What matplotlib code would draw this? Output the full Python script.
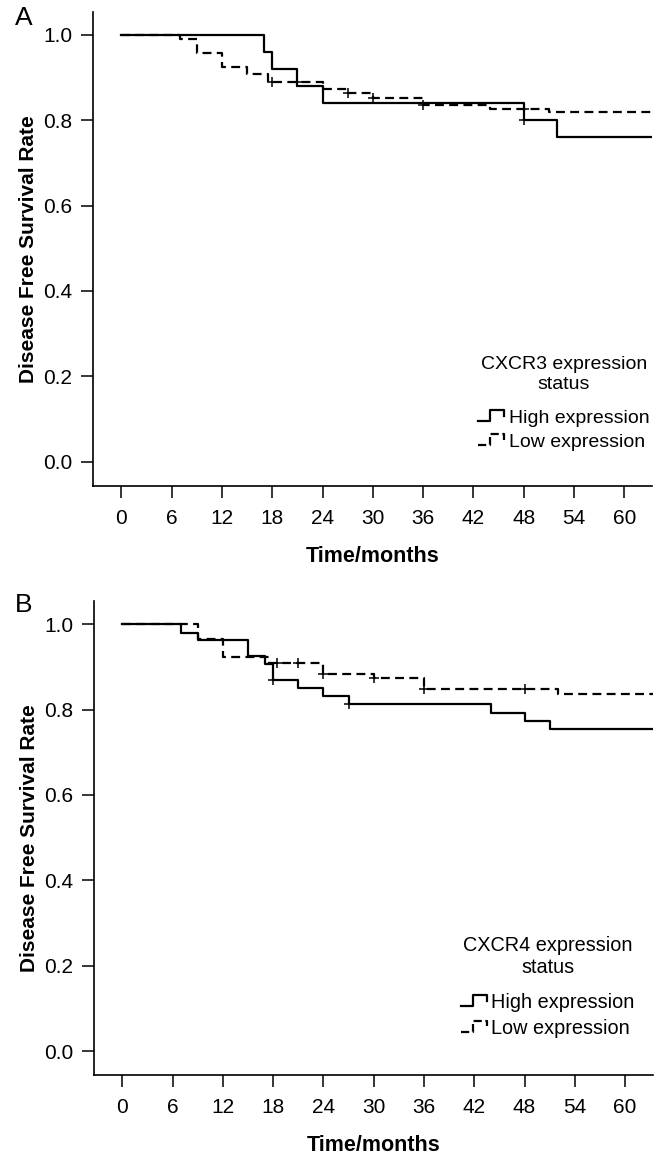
import numpy as np
import matplotlib
matplotlib.use("Agg")
import matplotlib.pyplot as plt
from matplotlib.lines import Line2D
from matplotlib.legend_handler import HandlerBase

plt.rcParams["font.family"] = ["Liberation Sans", "DejaVu Sans"]

# ---- data (months, survival) ----
# Panel A: CXCR3
a_high_t = [0, 17, 18, 21, 24, 48, 52, 63.3]
a_high_s = [1.0, 0.96, 0.92, 0.88, 0.84, 0.80, 0.76, 0.76]
a_high_cens_t = [48]
a_high_cens_s = [0.80]

a_low_t = [0, 7, 9, 12, 15, 17.5, 24, 27, 30, 36, 44, 51, 63.3]
a_low_s = [1.0, 0.99, 0.958, 0.925, 0.907, 0.889, 0.872, 0.864, 0.853, 0.835, 0.827, 0.818, 0.818]
a_low_cens_t = [18, 21, 27, 30, 36, 48]
a_low_cens_s = [0.889, 0.889, 0.864, 0.853, 0.835, 0.827]

# Panel B: CXCR4
b_high_t = [0, 7, 9, 15, 17, 18, 21, 24, 27, 44, 48, 51, 63.3]
b_high_s = [1.0, 0.98, 0.963, 0.926, 0.906, 0.870, 0.851, 0.831, 0.8125, 0.793, 0.773, 0.754, 0.754]
b_high_cens_t = [18, 27]
b_high_cens_s = [0.870, 0.8125]

b_low_t = [0, 9, 12, 17.5, 24, 30, 36, 52, 63.3]
b_low_s = [1.0, 0.965, 0.922, 0.908, 0.884, 0.873, 0.849, 0.836, 0.836]
b_low_cens_t = [18.5, 21, 24, 30, 36, 48]
b_low_cens_s = [0.908, 0.908, 0.884, 0.873, 0.849, 0.849]

x_ticks = [0, 6, 12, 18, 24, 30, 36, 42, 48, 54, 60]
y_ticks = [0.0, 0.2, 0.4, 0.6, 0.8, 1.0]
legend_labels = ["High expression", "Low expression"]

DASH = (0, (4, 2.4))
LW = 1.6


class StepHandler(HandlerBase):
    # SPSS-style little step glyph in the legend
    def create_artists(self, legend, orig_handle, xdescent, ydescent,
                       width, height, fontsize, trans):
        xs = np.array([0.0, 0.42, 0.42, 0.92, 0.92]) * width - xdescent
        ys = np.array([0.15, 0.15, 0.95, 0.95, 0.55]) * height - ydescent
        ln = Line2D(xs, ys, color="black", lw=LW,
                    linestyle=orig_handle.get_linestyle())
        ln.set_transform(trans)
        return [ln]


def km_panel(ax, high, low, title, anchor, legsize):
    ht, hs, hct, hcs = high
    lt, ls_, lct, lcs = low
    h_line, = ax.step(ht, hs, where="post", color="black", lw=LW)
    l_line, = ax.step(lt, ls_, where="post", color="black", lw=LW, linestyle=DASH)
    ax.plot(hct, hcs, ls="none", marker="+", ms=7, mew=1.1, color="black")
    ax.plot(lct, lcs, ls="none", marker="+", ms=7, mew=1.1, color="black")

    ax.set_xlim(-3.35, 63.3)
    ax.set_ylim(-0.056, 1.054)
    ax.set_xticks(x_ticks)
    ax.set_yticks(y_ticks)
    ax.set_yticklabels([f"{v:.1f}" for v in y_ticks])
    ax.tick_params(direction="out", length=8.5, width=1.1, labelsize=15, pad=6.5)
    ax.tick_params(axis="x", pad=8)
    for s in ("top", "right"):
        ax.spines[s].set_visible(False)
    for s in ("left", "bottom"):
        ax.spines[s].set_linewidth(1.2)

    ax.set_xlabel("Time/months", fontsize=15.5, fontweight="bold", labelpad=13)
    ax.set_ylabel("Disease Free Survival Rate", fontsize=15, fontweight="bold", labelpad=4)

    leg = ax.legend([h_line, l_line], legend_labels, title=title,
                    handler_map={Line2D: StepHandler()},
                    loc="lower right", bbox_to_anchor=anchor,
                    frameon=False, fontsize=legsize, title_fontsize=legsize,
                    handlelength=1.45, handletextpad=0.1, labelspacing=0.32,
                    borderpad=0, borderaxespad=0, alignment="center")
    leg.get_title().set_multialignment("center")
    leg._legend_box.sep = 12
    return leg


fig = plt.figure(figsize=(6.62, 11.55), dpi=100)
W, H = 662, 1155
ax1 = fig.add_axes([93.3 / W, 1 - 485.7 / H, (652 - 93.3) / W, (485.7 - 11.7) / H])
ax2 = fig.add_axes([94.3 / W, 1 - 1075.3 / H, (652.7 - 94.3) / W, (1075.3 - 601) / H])

km_panel(ax1, (a_high_t, a_high_s, a_high_cens_t, a_high_cens_s),
         (a_low_t, a_low_s, a_low_cens_t, a_low_cens_s),
         "CXCR3 expression\nstatus", (0.995, 0.073), 14)
km_panel(ax2, (b_high_t, b_high_s, b_high_cens_t, b_high_cens_s),
         (b_low_t, b_low_s, b_low_cens_t, b_low_cens_s),
         "CXCR4 expression\nstatus", (0.968, 0.079), 14.3)

fig.text(15 / W, 1 - 18 / H, "A", fontsize=19, va="center", ha="left")
fig.text(15 / W, 1 - 605 / H, "B", fontsize=19, va="center", ha="left")

fig.savefig("out.png", dpi=100, facecolor="white")
